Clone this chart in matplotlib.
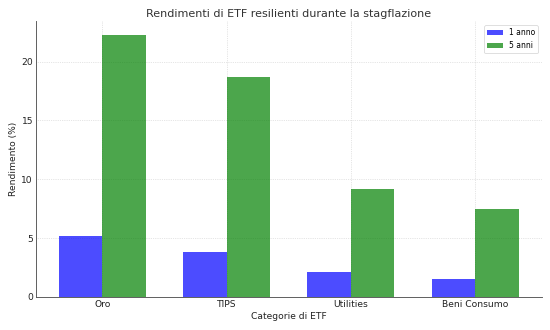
import matplotlib.pyplot as plt
import numpy as np

# ETF categories and returns (%)
categories = ['Oro', 'TIPS', 'Utilities', 'Beni Consumo']
returns_1y = [5.2, 3.8, 2.1, 1.5]
returns_5y = [22.3, 18.7, 9.2, 7.5]

x = np.arange(len(categories))
width = 0.35

fig, ax = plt.subplots(figsize=(10, 6), dpi=55)

ax.bar(x - width/2, returns_1y, width, label='1 anno', color='blue', alpha=0.7)
ax.bar(x + width/2, returns_5y, width, label='5 anni', color='green', alpha=0.7)

ax.set_title('Rendimenti di ETF resilienti durante la stagflazione', fontsize=14.5, color='#333333')
ax.set_xlabel('Categorie di ETF', fontsize=12, color='#222222')
ax.set_ylabel('Rendimento (%)', fontsize=12, color='#222222')
ax.set_xticks(x)
ax.set_xticklabels(categories)
ax.tick_params(labelsize=12, length=0, colors='#222222')
ax.legend(fontsize=10, loc='upper right')
ax.grid(True, linestyle=':', color='#cccccc', linewidth=0.9)
ax.set_axisbelow(True)

for side in ['top', 'right']:
    ax.spines[side].set_visible(False)
for side in ['left', 'bottom']:
    ax.spines[side].set_color('#555555')
    ax.spines[side].set_linewidth(1.2)

plt.subplots_adjust(left=0.065, right=0.985, top=0.935, bottom=0.1)
plt.savefig('out.png', dpi=55)
